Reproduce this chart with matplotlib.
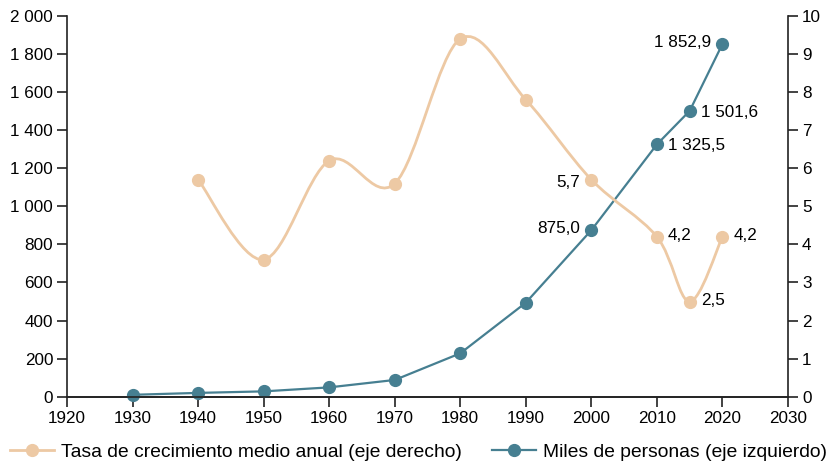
import numpy as np
import matplotlib.pyplot as plt
from matplotlib.path import Path
from matplotlib.patches import PathPatch
from matplotlib.lines import Line2D
from matplotlib.ticker import FuncFormatter

plt.rcParams['font.family'] = ['Liberation Sans', 'DejaVu Sans']

years_pop = [1930, 1940, 1950, 1960, 1970, 1980, 1990, 2000, 2010, 2015, 2020]
miles_personas = [10, 20, 28, 49, 88, 228, 494, 875.0, 1325.5, 1501.6, 1852.9]

years_rate = [1940, 1950, 1960, 1970, 1980, 1990, 2000, 2010, 2015, 2020]
tasa = [5.7, 3.6, 6.2, 5.6, 9.4, 7.8, 5.7, 4.2, 2.5, 4.2]

pop_labels = {2000: "875,0", 2010: "1 325,5", 2015: "1 501,6", 2020: "1 852,9"}
rate_labels = {2000: "5,7", 2010: "4,2", 2015: "2,5", 2020: "4,2"}

col_orange = "#EDC9A4"
col_blue = "#467F91"
fs = 12.3


def smooth_path(xs, ys):
    # Catmull-Rom through the points, as cubic Bezier segments
    xs = np.asarray(xs, float)
    ys = np.asarray(ys, float)
    pts = np.column_stack([xs, ys])
    verts = [pts[0]]
    codes = [Path.MOVETO]
    n = len(pts)
    for i in range(n - 1):
        p0 = pts[i - 1] if i > 0 else pts[i]
        p1 = pts[i]
        p2 = pts[i + 1]
        p3 = pts[i + 2] if i + 2 < n else pts[i + 1]
        c1 = p1 + (p2 - p0) / 6.0
        c2 = p2 - (p3 - p1) / 6.0
        verts += [c1, c2, p2]
        codes += [Path.CURVE4] * 3
    return Path(verts, codes)


def thousands(v, pos):
    return f"{int(v):,}".replace(",", " ")


fig, ax = plt.subplots(figsize=(8.28, 4.66), dpi=100)
fig.subplots_adjust(left=0.081, right=0.9517, top=0.9657, bottom=0.1487)
ax2 = ax.twinx()

ax.plot(years_pop, miles_personas, color=col_blue, lw=1.6, marker="o",
        ms=8.5, zorder=3, clip_on=False)

ax2.add_patch(PathPatch(smooth_path(years_rate, tasa), fill=False,
                        edgecolor=col_orange, lw=2.0, zorder=2))
ax2.plot(years_rate, tasa, ls="none", color=col_orange, marker="o", ms=8.5,
         zorder=3)

for x, y in zip(years_pop, miles_personas):
    if x in pop_labels:
        if x in (2000, 2020):
            ax.annotate(pop_labels[x], (x, y), xytext=(-8, 1),
                        textcoords="offset points", ha="right", va="center",
                        fontsize=fs)
        else:
            ax.annotate(pop_labels[x], (x, y), xytext=(8, -1),
                        textcoords="offset points", ha="left", va="center",
                        fontsize=fs)

for x, y in zip(years_rate, tasa):
    if x in rate_labels:
        if x == 2000:
            ax2.annotate(rate_labels[x], (x, y), xytext=(-8, -2),
                         textcoords="offset points", ha="right", va="center",
                         fontsize=fs)
        else:
            ax2.annotate(rate_labels[x], (x, y), xytext=(8, 1),
                         textcoords="offset points", ha="left", va="center",
                         fontsize=fs)

ax.set_xlim(1920, 2030)
ax.set_ylim(0, 2000)
ax2.set_ylim(0, 10)
ax.set_xticks(range(1920, 2031, 10))
ax.set_yticks(range(0, 2001, 200))
ax2.set_yticks(range(0, 11))
ax.yaxis.set_major_formatter(FuncFormatter(thousands))

for a in (ax, ax2):
    a.spines["top"].set_visible(False)
    for s in ("left", "right", "bottom"):
        a.spines[s].set_linewidth(1.2)
        a.spines[s].set_color("#222222")
    a.tick_params(length=7, width=1.2, color="#222222", labelsize=fs,
                  pad=3)
ax2.spines["left"].set_visible(False)
ax.spines["right"].set_visible(False)

handles = [
    Line2D([], [], color=col_orange, lw=2.0, marker="o", ms=8.5),
    Line2D([], [], color=col_blue, lw=1.6, marker="o", ms=8.5),
]
fig.legend(handles, ["Tasa de crecimiento medio anual (eje derecho)",
                     "Miles de personas (eje izquierdo)"],
           loc="center left", bbox_to_anchor=(0.012, 0.03), ncol=2,
           frameon=False, fontsize=13.9, handlelength=2.3, handletextpad=0.36,
           columnspacing=1.55, borderpad=0, borderaxespad=0)

fig.savefig("out.png", dpi=100)
